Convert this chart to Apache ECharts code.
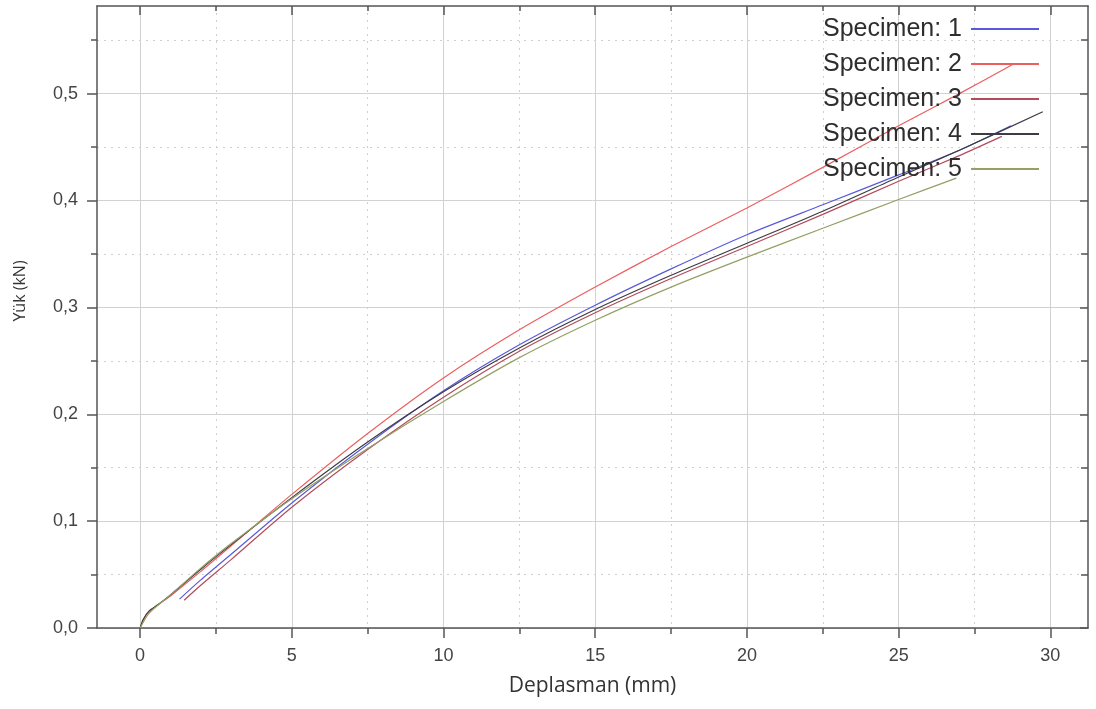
<!DOCTYPE html>
<html>
<head>
<meta charset="utf-8">
<script src="https://cdn.jsdelivr.net/npm/echarts@6/dist/echarts.min.js"></script>
<style>
  html, body { margin: 0; padding: 0; background: #ffffff; }
  #chart { width: 1096px; height: 709px; }
</style>
</head>
<body>
<div id="chart"></div>
<script>
// Load-displacement curves of five specimens
const specimenNames = ['Specimen: 1', 'Specimen: 2', 'Specimen: 3', 'Specimen: 4', 'Specimen: 5'];
const specimenColors = ['#5a5ad8', '#ec5f5f', '#b24c5a', '#3c3c44', '#95a064'];

// Displacement (mm) and load (kN) per specimen
const s1x = [1.3, 2, 3, 5, 7.5, 10, 12.5, 15, 17.5, 20, 22.5, 25, 27, 28.7];
const s1y = [0.027, 0.045, 0.069, 0.117, 0.172, 0.222, 0.265, 0.302, 0.336, 0.368, 0.396, 0.424, 0.447, 0.470];

const s2x = [0, 0.2, 0.5, 1, 2, 3, 5, 7.5, 10, 12.5, 15, 17.5, 20, 22.5, 25, 27, 28.8];
const s2y = [0, 0.012, 0.020, 0.030, 0.053, 0.077, 0.125, 0.182, 0.234, 0.279, 0.319, 0.357, 0.393, 0.431, 0.470, 0.500, 0.528];

const s3x = [1.45, 2, 3, 5, 7.5, 10, 12.5, 15, 17.5, 20, 22.5, 25, 27, 28.4];
const s3y = [0.026, 0.040, 0.064, 0.113, 0.167, 0.216, 0.259, 0.295, 0.327, 0.357, 0.387, 0.418, 0.442, 0.460];

const s4x = [0, 0.1, 0.3, 0.6, 1, 2, 3, 5, 7.5, 10, 12.5, 15, 17.5, 20, 22.5, 25, 27, 29.75];
const s4y = [0, 0.008, 0.016, 0.022, 0.031, 0.055, 0.078, 0.122, 0.174, 0.221, 0.262, 0.298, 0.330, 0.360, 0.390, 0.422, 0.447, 0.483];

const s5x = [0, 0.3, 1, 2, 3, 5, 7.5, 10, 12.5, 15, 17.5, 20, 22.5, 25, 26.9];
const s5y = [0, 0.014, 0.031, 0.056, 0.079, 0.121, 0.168, 0.212, 0.253, 0.288, 0.319, 0.347, 0.374, 0.401, 0.421];

const seriesX = [s1x, s2x, s3x, s4x, s5x];
const seriesY = [s1y, s2y, s3y, s4y, s5y];

// Axis ticks and their labels
const xTickValues = [0, 5, 10, 15, 20, 25, 30];
const xTickLabels = ['0', '5', '10', '15', '20', '25', '30'];
const yTickValues = [0, 0.1, 0.2, 0.3, 0.4, 0.5];
const yTickLabels = ['0,0', '0,1', '0,2', '0,3', '0,4', '0,5'];

const X_MIN = -1.42, X_MAX = 31.24;
const Y_MIN = 0, Y_MAX = 0.582;

const frameColor = '#555555';
const labelFont = { fontFamily: 'Liberation Sans, Arial, sans-serif', fontSize: 18, color: '#444444' };

function zipXY(xs, ys) {
  return xs.map((x, i) => [x, ys[i]]);
}

function labelFor(values, labels) {
  return function (v) {
    for (let i = 0; i < values.length; i++) {
      if (Math.abs(values[i] - v) < 1e-6) return labels[i];
    }
    return '';
  };
}

const chart = echarts.init(document.getElementById('chart'), null, { renderer: 'canvas' });

const option = {
  animation: false,
  backgroundColor: '#ffffff',
  grid: { left: 97, right: 8, top: 6, bottom: 81, containLabel: false },
  legend: {
    orient: 'vertical',
    right: 52,
    top: 10,
    align: 'right',
    icon: 'rect',
    itemWidth: 68,
    itemHeight: 2,
    itemGap: 7,
    data: specimenNames,
    textStyle: {
      fontFamily: 'Liberation Sans, Arial, sans-serif',
      fontSize: 25,
      lineHeight: 28,
      color: '#2e2e2e',
      padding: [0, 4, 0, 0]
    }
  },
  xAxis: [
    {
      type: 'value',
      position: 'bottom',
      min: X_MIN, max: X_MAX,
      minInterval: 5, maxInterval: 5, splitNumber: 7,
      name: 'Deplasman (mm)',
      nameLocation: 'middle',
      nameGap: 48,
      nameTextStyle: { fontFamily: 'Open Sans, DejaVu Sans, sans-serif', fontSize: 21, color: '#333333' },
      axisLine: { onZero: false, lineStyle: { color: frameColor, width: 1.5 } },
      axisTick: { show: true, length: 10, customValues: xTickValues, lineStyle: { color: frameColor, width: 1.5 } },
      minorTick: { show: true, splitNumber: 2, length: 6, lineStyle: { color: frameColor, width: 1.5 } },
      axisLabel: Object.assign({ margin: 19, customValues: xTickValues,
        formatter: labelFor(xTickValues, xTickLabels) }, labelFont),
      splitLine: { show: true, lineStyle: { color: '#d2d2d2', width: 1 } },
      minorSplitLine: { show: true, lineStyle: { color: '#cfcfcf', width: 1, type: [2, 5] } }
    },
    {
      type: 'value',
      position: 'top',
      min: X_MIN, max: X_MAX,
      minInterval: 5, maxInterval: 5, splitNumber: 7,
      axisLine: { onZero: false, lineStyle: { color: frameColor, width: 1.5 } },
      axisTick: { show: true, inside: true, length: 9, customValues: xTickValues, lineStyle: { color: frameColor, width: 1.5 } },
      minorTick: { show: true, splitNumber: 2, length: 5, lineStyle: { color: frameColor, width: 1.5 } },
      axisLabel: { show: false },
      splitLine: { show: false }
    }
  ],
  yAxis: [
    {
      type: 'value',
      position: 'left',
      min: Y_MIN, max: Y_MAX,
      minInterval: 0.1, maxInterval: 0.1, splitNumber: 6,
      axisLine: { show: true, onZero: false, lineStyle: { color: frameColor, width: 1.5 } },
      axisTick: { show: true, length: 10, customValues: yTickValues, lineStyle: { color: frameColor, width: 1.5 } },
      minorTick: { show: true, splitNumber: 2, length: 6, lineStyle: { color: frameColor, width: 1.5 } },
      axisLabel: Object.assign({ margin: 19, customValues: yTickValues,
        formatter: labelFor(yTickValues, yTickLabels) }, labelFont),
      splitLine: { show: true, lineStyle: { color: '#d2d2d2', width: 1 } },
      minorSplitLine: { show: true, lineStyle: { color: '#cfcfcf', width: 1, type: [2, 5] } }
    },
    {
      type: 'value',
      position: 'right',
      min: Y_MIN, max: Y_MAX,
      minInterval: 0.1, maxInterval: 0.1, splitNumber: 6,
      axisLine: { show: true, onZero: false, lineStyle: { color: frameColor, width: 1.5 } },
      axisTick: { show: true, inside: true, length: 8, customValues: yTickValues, lineStyle: { color: frameColor, width: 1.5 } },
      minorTick: { show: true, splitNumber: 2, length: 7, lineStyle: { color: frameColor, width: 1.5 } },
      axisLabel: { show: false },
      splitLine: { show: false }
    }
  ],
  graphic: [
    {
      type: 'text',
      x: 20,
      y: 291,
      rotation: Math.PI / 2,
      style: {
        text: 'Yük (kN)',
        font: '16px "Open Sans", "DejaVu Sans", sans-serif',
        fill: '#333333',
        align: 'center',
        verticalAlign: 'middle'
      }
    }
  ],
  series: specimenNames.map((name, i) => ({
    name: name,
    type: 'line',
    xAxisIndex: 0,
    yAxisIndex: 0,
    showSymbol: false,
    symbol: 'none',
    smooth: 0.25,
    color: specimenColors[i],
    lineStyle: { width: 1.2, color: specimenColors[i] },
    data: zipXY(seriesX[i], seriesY[i]),
    z: 3
  }))
};

chart.setOption(option);
</script>
</body>
</html>
